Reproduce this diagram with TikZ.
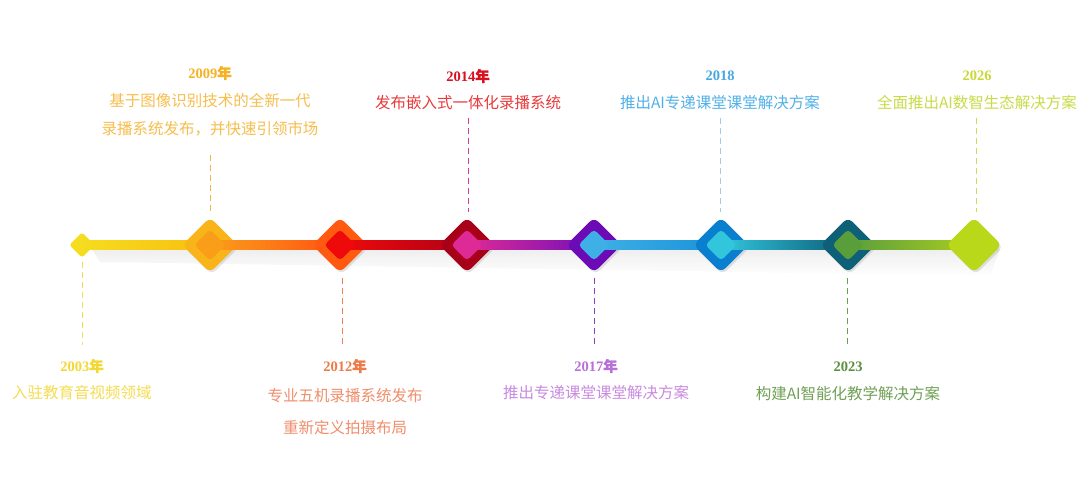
\documentclass[tikz,border=0pt]{standalone}
\usepackage{fontspec}
\setmainfont{Liberation Serif}
\newfontfamily\cjk{Noto Sans CJK SC}
\newfontfamily\cjkb[FakeBold=1.6]{Noto Sans CJK SC}
\usetikzlibrary{shadows}
% diamond colours
\definecolor{s03}{HTML}{F5DC1E}\definecolor{e03}{HTML}{F9BE10}
\definecolor{o09}{HTML}{F8B418}\definecolor{n09}{HTML}{FA9E1A}\definecolor{e09}{HTML}{FF5212}
\definecolor{o12}{HTML}{FF5A10}\definecolor{n12}{HTML}{EE0A0A}\definecolor{e12}{HTML}{B00018}
\definecolor{o14}{HTML}{A80018}\definecolor{n14}{HTML}{DE2A96}\definecolor{e14}{HTML}{7410B8}
\definecolor{o17}{HTML}{6C0AB5}\definecolor{n17}{HTML}{3FB0E6}\definecolor{e17}{HTML}{1892D8}
\definecolor{o18}{HTML}{0A7FD0}\definecolor{n18}{HTML}{32C6DC}\definecolor{e18}{HTML}{0C5E78}
\definecolor{o23}{HTML}{0E6078}\definecolor{n23}{HTML}{5A9E3C}\definecolor{e23}{HTML}{AACC20}
\definecolor{o26}{HTML}{BAD81A}
% text colours
\definecolor{y03}{HTML}{F2D835}\definecolor{t03}{HTML}{F5DC50}
\definecolor{y09}{HTML}{F5B225}\definecolor{t09}{HTML}{F7BE4E}
\definecolor{y12}{HTML}{EE7B4A}\definecolor{t12}{HTML}{F08E6C}
\definecolor{y14}{HTML}{D81020}\definecolor{t14}{HTML}{E83A3A}
\definecolor{y17}{HTML}{B870D8}\definecolor{t17}{HTML}{C88AE0}
\definecolor{y18}{HTML}{48A8E0}\definecolor{t18}{HTML}{50B0E8}
\definecolor{y23}{HTML}{5A9040}\definecolor{t23}{HTML}{70A055}
\definecolor{y26}{HTML}{C8D838}\definecolor{t26}{HTML}{C8DC48}
% dash colours
\definecolor{v03}{HTML}{F5DC50}\definecolor{v09}{HTML}{F5B840}
\definecolor{v12}{HTML}{EE8050}\definecolor{v14}{HTML}{D83A9A}
\definecolor{v17}{HTML}{8A40C0}\definecolor{v18}{HTML}{A8C8E8}
\definecolor{v23}{HTML}{6AA050}\definecolor{v26}{HTML}{C8DC60}
\newcommand{\nian}{{\cjkb 年}}
\tikzset{
  outer/.style={rectangle, rotate=45, minimum size=39pt, rounded corners=6pt, inner sep=0pt,
    drop shadow={shadow xshift=1.5pt, shadow yshift=-2pt, opacity=0.22}},
  inner/.style={rectangle, rotate=45, minimum size=22pt, rounded corners=3.5pt, inner sep=0pt},
  startd/.style={rectangle, rotate=45, minimum size=18pt, rounded corners=3pt, inner sep=0pt},
  year/.style={font=\bfseries\fontsize{14.5}{16}\selectfont, inner sep=0pt},
  txt/.style={font=\cjk\fontsize{15.5}{17}\selectfont, inner sep=0pt},
  vline/.style={dash pattern=on 6pt off 4pt, line width=0.8pt},
}
\begin{document}
\begin{tikzpicture}[x=1pt,y=-1pt]
\path[use as bounding box, fill=white] (0,0) rectangle (1080,478);

% soft shadow under the bar
\shade[top color=black!9, bottom color=white, opacity=0.7]
  (92,249) -- (1000,249) -- (990,276) -- (100,262) -- cycle;

% start dot and first bar
\node[startd, fill=s03] (d03) at (82,245) {};
\shade[left color=s03, right color=e03] ([yshift=4.5pt]d03.center) rectangle (210,249.5);

% 2009
\node[outer, fill=o09] (d09) at (210,245) {};
\shade[left color=n09, right color=e09] ([yshift=4.5pt]d09.center) rectangle (340,249.5);
\node[inner, fill=n09] (i09) at (210,245) {};

% 2012
\node[outer, fill=o12] (d12) at (340,245) {};
\shade[left color=n12, right color=e12] ([yshift=4.5pt]d12.center) rectangle (467,249.5);
\node[inner, fill=n12] (i12) at (340,245) {};

% 2014
\node[outer, fill=o14] (d14) at (467,245) {};
\shade[left color=n14, right color=e14] ([yshift=4.5pt]d14.center) rectangle (594,249.5);
\node[inner, fill=n14] (i14) at (467,245) {};

% 2017
\node[outer, fill=o17] (d17) at (594,245) {};
\shade[left color=n17, right color=e17] ([yshift=4.5pt]d17.center) rectangle (721,249.5);
\node[inner, fill=n17] (i17) at (594,245) {};

% 2018
\node[outer, fill=o18] (d18) at (721,245) {};
\shade[left color=n18, right color=e18] ([yshift=4.5pt]d18.center) rectangle (848,249.5);
\node[inner, fill=n18] (i18) at (721,245) {};

% 2023
\node[outer, fill=o23] (d23) at (848,245) {};
\shade[left color=n23, right color=e23] ([yshift=4.5pt]d23.center) rectangle (974,249.5);
\node[inner, fill=n23] (i23) at (848,245) {};

% 2026
\node[outer, fill=o26] (d26) at (974,245) {};

% ---- texts ----
\node[year, text=y03] (y03) at (82,366) {2003\nian};
\node[txt, text=t03] (l03) at (82,393) {入驻教育音视频领域};

\node[year, text=y09] (y09) at (210,73) {2009\nian};
\node[txt, text=t09] (l09a) at (210,101) {基于图像识别技术的全新一代};
\node[txt, text=t09] (l09b) at (210,129) {录播系统发布，并快速引领市场};

\node[year, text=y12] (y12) at (345,366) {2012\nian};
\node[txt, text=t12] (l12a) at (345,396) {专业五机录播系统发布};
\node[txt, text=t12] (l12b) at (345,428) {重新定义拍摄布局};

\node[year, text=y14] (y14) at (468,76) {2014\nian};
\node[txt, text=t14] (l14) at (468,103) {发布嵌入式一体化录播系统};

\node[year, text=y17] (y17) at (596,366) {2017\nian};
\node[txt, text=t17] (l17) at (596,393) {推出专递课堂课堂解决方案};

\node[year, text=y18] (y18) at (720,76) {2018};
\node[txt, text=t18] (l18) at (720,103) {推出AI专递课堂课堂解决方案};

\node[year, text=y23] (y23) at (848,367) {2023};
\node[txt, text=t23] (l23) at (848,394) {构建AI智能化教学解决方案};

\node[year, text=y26] (y26) at (977,76) {2026};
\node[txt, text=t26] (l26) at (977,103) {全面推出AI数智生态解决方案};

% ---- dashed leaders ----
\coordinate (a03) at (82,262);  \coordinate (b03) at (82,345);
\coordinate (a09) at (210,155); \coordinate (b09) at (210,213);
\coordinate (a12) at (342,278); \coordinate (b12) at (342,345);
\coordinate (a14) at (468,118); \coordinate (b14) at (468,212);
\coordinate (a17) at (594,278); \coordinate (b17) at (594,345);
\coordinate (a18) at (720,118); \coordinate (b18) at (720,212);
\coordinate (a23) at (847,278); \coordinate (b23) at (847,345);
\coordinate (a26) at (976,118); \coordinate (b26) at (976,212);
\draw[vline, v03] (a03) -- (b03);
\draw[vline, v09] (a09) -- (b09);
\draw[vline, v12] (a12) -- (b12);
\draw[vline, v14] (a14) -- (b14);
\draw[vline, v17] (a17) -- (b17);
\draw[vline, v18] (a18) -- (b18);
\draw[vline, v23] (a23) -- (b23);
\draw[vline, v26] (a26) -- (b26);
\end{tikzpicture}
\end{document}
